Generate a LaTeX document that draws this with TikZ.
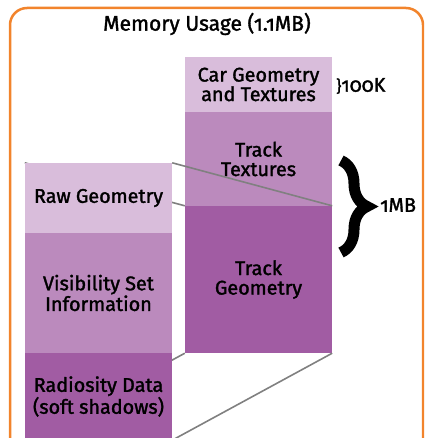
\documentclass[tikz,border=0pt]{standalone}
\usepackage{fontspec}
\setmainfont{Fira Sans}[Numbers=OldStyle, FakeBold=1.6, UprightFeatures={FakeBold=1.6}]
\usetikzlibrary{decorations.pathreplacing}
\definecolor{plumlight}{RGB}{217,189,219}
\definecolor{plummid}{RGB}{187,138,189}
\definecolor{plumdark}{RGB}{161,92,163}
\definecolor{frameorange}{RGB}{242,132,44}
\definecolor{zoomgray}{RGB}{128,128,128}
\pgfdeclarelayer{back}
\pgfdeclarelayer{front}
\pgfsetlayers{back,main,front}
\tikzset{
  labelfont/.style={font=\fontsize{19.8}{19.5}\selectfont},
  block/.style={draw=none, inner sep=0pt, align=center, labelfont,
    text=black, minimum width=147pt},
  zoomline/.style={zoomgray, line width=1.6pt},
}
\begin{document}
\begin{tikzpicture}[x=1pt,y=-1pt]
\useasboundingbox (0,0) rectangle (424,438);
\begin{scope}
\clip (0,0) rectangle (424,438);
% outer frame
\draw[frameorange, line width=2.5pt, rounded corners=17pt] (10,8) rectangle (423,480);

\node[font=\fontsize{21}{21}\selectfont] (title) at (207,24) {Memory Usage (1.1MB)};

% whole-program column
\begin{pgfonlayer}{back}
\node[block, fill=plumlight, minimum height=55pt] (car) at (258.5,84.5) {Car Geometry\\and Textures};
\node[block, fill=plummid, minimum height=94pt] (ttex) at (258.5,159) {Track\\Textures};
\node[block, fill=plumdark, minimum height=147pt] (tgeo) at (258.5,279.5) {Track\\Geometry};
\end{pgfonlayer}

% breakdown of the track geometry
\begin{pgfonlayer}{front}
\node[block, fill=plumlight, minimum height=70pt] (raw) at (98.5,198) {Raw Geometry};
\node[block, fill=plummid, minimum height=120pt] (vis) at (98.5,293) {Visibility Set\\Information};
\node[block, fill=plumdark, minimum height=87pt] (rad) at (98.5,396.5) {Radiosity Data\\(soft shadows)};
\end{pgfonlayer}

\draw[zoomline] (raw.north west) -- (tgeo.north west);
\draw[zoomline] (raw.north east) -- (tgeo.north east);
\draw[zoomline] (rad.south west) -- (tgeo.south west);
\draw[zoomline] (rad.south east) -- (tgeo.south east);

% size annotations
\node[labelfont, anchor=west, inner sep=0pt] (small) at (336,86) {{\fontsize{16}{16}\selectfont\}}100K};
\coordinate (bracetop) at (341,160.5);
\coordinate (bracebot) at (341,252.5);
\draw[line width=11pt, decorate, decoration={brace, amplitude=26pt}] (bracetop) -- (bracebot);
\node[labelfont, anchor=west, inner sep=0pt] (onemb) at (380,205) {1MB};
\end{scope}
\end{tikzpicture}
\end{document}
